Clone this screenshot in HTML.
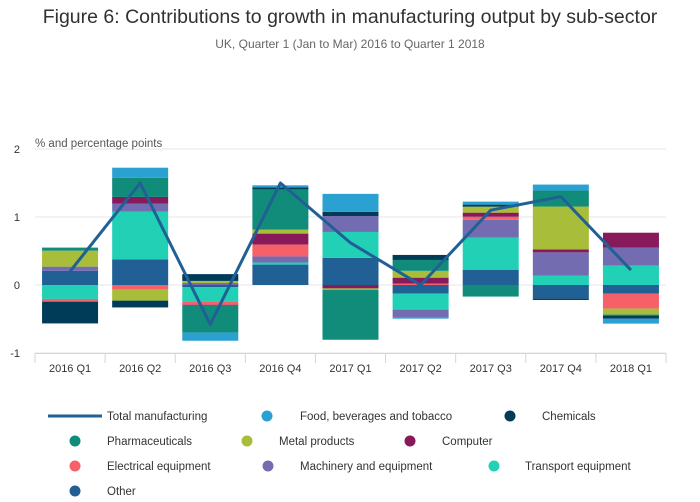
<!DOCTYPE html>
<html><head><meta charset="utf-8"><style>
body{margin:0;background:#fff;font-family:"Liberation Sans",sans-serif;}
#wrap{position:relative;width:700px;height:502px;overflow:hidden;}
.t{position:absolute;white-space:nowrap;}
</style></head><body>
<div id="wrap">
<div class="t" style="left:0;width:700px;text-align:center;top:6px;font-size:19.5px;color:#323132;">Figure 6: Contributions to growth in manufacturing output by sub-sector</div>
<div class="t" style="left:0;width:700px;text-align:center;top:37px;font-size:12px;color:#666;">UK, Quarter 1 (Jan to Mar) 2016 to Quarter 1 2018</div>
<svg id="svg" width="700" height="502" style="position:absolute;left:0;top:0"></svg>
</div>
<script>
const categories=["2016 Q1","2016 Q2","2016 Q3","2016 Q4","2017 Q1","2017 Q2","2017 Q3","2017 Q4","2018 Q1"];
const seriesNames=["Food, beverages and tobacco","Chemicals","Pharmaceuticals","Metal products","Computer","Electrical equipment","Machinery and equipment","Transport equipment","Other"];
const colors=["#2aa1d1","#003c57","#118c7b","#a8bd3a","#871a5b","#f66068","#746cb1","#22d0b6","#206095"];
const food=[0,0.15,-0.12,0.03,0.265,-0.015,0.044,0.088,-0.074];
const chemicals=[-0.32,-0.1,0.1,0.03,0.06,0.074,0.03,-0.02,-0.044];
const pharma=[0.045,0.28,-0.4,0.59,-0.735,0.16,-0.17,0.235,-0.015];
const metal=[0.235,-0.16,0.03,0.06,-0.02,0.1,0.088,0.63,-0.088];
const computer=[0,0.1,-0.01,0.16,-0.05,0.088,0.06,0.044,0.22];
const electrical=[-0.04,-0.07,-0.05,0.176,0,0.02,0.044,0,-0.22];
const machinery=[0.06,0.118,0.03,0.09,0.235,-0.118,0.265,0.34,0.265];
const transport=[-0.205,0.7,-0.21,0.03,0.38,-0.235,0.47,0.14,0.284];
const other=[0.21,0.377,-0.03,0.3,0.4,-0.127,0.225,-0.2,-0.127];
const total=[0.2,1.5,-0.58,1.5,0.62,0.0,1.1,1.3,0.22];
const yTicks=[2,1,0,-1];
const series=[food,chemicals,pharma,metal,computer,electrical,machinery,transport,other];
const NS="http://www.w3.org/2000/svg",svg=document.getElementById('svg');
const L=35,R=666,T=149,B=353,yMax=2,yMin=-1;
const bw=(R-L)/categories.length;
const y=v=>T+(yMax-v)*(B-T)/(yMax-yMin);
const xc=i=>L+bw*(i+0.5);
function mk(tag,a,p){const e=document.createElementNS(NS,tag);for(const k in a)e.setAttribute(k,a[k]);(p||svg).appendChild(e);return e;}
yTicks.forEach(v=>{
const g=mk('line',{x1:L,x2:R,y1:y(v),y2:y(v),stroke:'#e6e6e6','stroke-width':1});


const t=mk('text',{x:20,y:y(v)+4,'text-anchor':'end','font-size':11,fill:'#333'});t.textContent=v;


});
const yt=mk('text',{x:35,y:147,'font-size':11.5,fill:'#555'});yt.textContent='% and percentage points';


categories.forEach((c,i)=>{
let pos=0,neg=0;
for(let s=series.length-1;s>=0;s--){
const v=series[s][i];if(!v)continue;
let y0,y1;if(v>0){y0=pos;y1=pos+v;pos=y1;}else{y0=neg;y1=neg+v;neg=y1;}
const r=mk('rect',{x:xc(i)-28,width:56,y:Math.min(y(y0),y(y1)),height:Math.abs(y(y1)-y(y0)),fill:colors[s]});


}
const lab=mk('text',{x:xc(i),y:372,'text-anchor':'middle','font-size':11,fill:'#333'});lab.textContent=c;


});
const ax=mk('line',{x1:L,x2:R,y1:B+0.5,y2:B+0.5,stroke:'#ccd6eb','stroke-width':1});


for(let i=0;i<=categories.length;i++){const tk=mk('line',{x1:L+bw*i,x2:L+bw*i,y1:B,y2:B+10,stroke:'#ccd6eb'});

}
const ln=mk('polyline',{points:total.map((v,i)=>xc(i)+','+y(v)).join(' '),fill:'none',stroke:'#206095','stroke-width':3,'stroke-linejoin':'round'});


const leg=[[0,416,null,107],[1,416,267,300],[2,416,510,542],[3,441,75,107],[4,441,247,279],[5,441,410,442],[6,466,75,107],[7,466,268,300],[8,466,494,525],[9,491,75,107]];
const names=["Total manufacturing"].concat(seriesNames);const cols=["#206095"].concat(colors);
leg.forEach(([k,yy,cx,tx])=>{
if(k===0){const l=mk('line',{x1:48,x2:102,y1:yy,y2:yy,stroke:cols[0],'stroke-width':3});

}
else{const c=mk('circle',{cx:cx,cy:yy,r:5.5,fill:cols[k]});

}
const t=mk('text',{x:tx,y:yy+4,'font-size':11.5,fill:'#333'});t.textContent=names[k];


});
</script>
</body></html>
